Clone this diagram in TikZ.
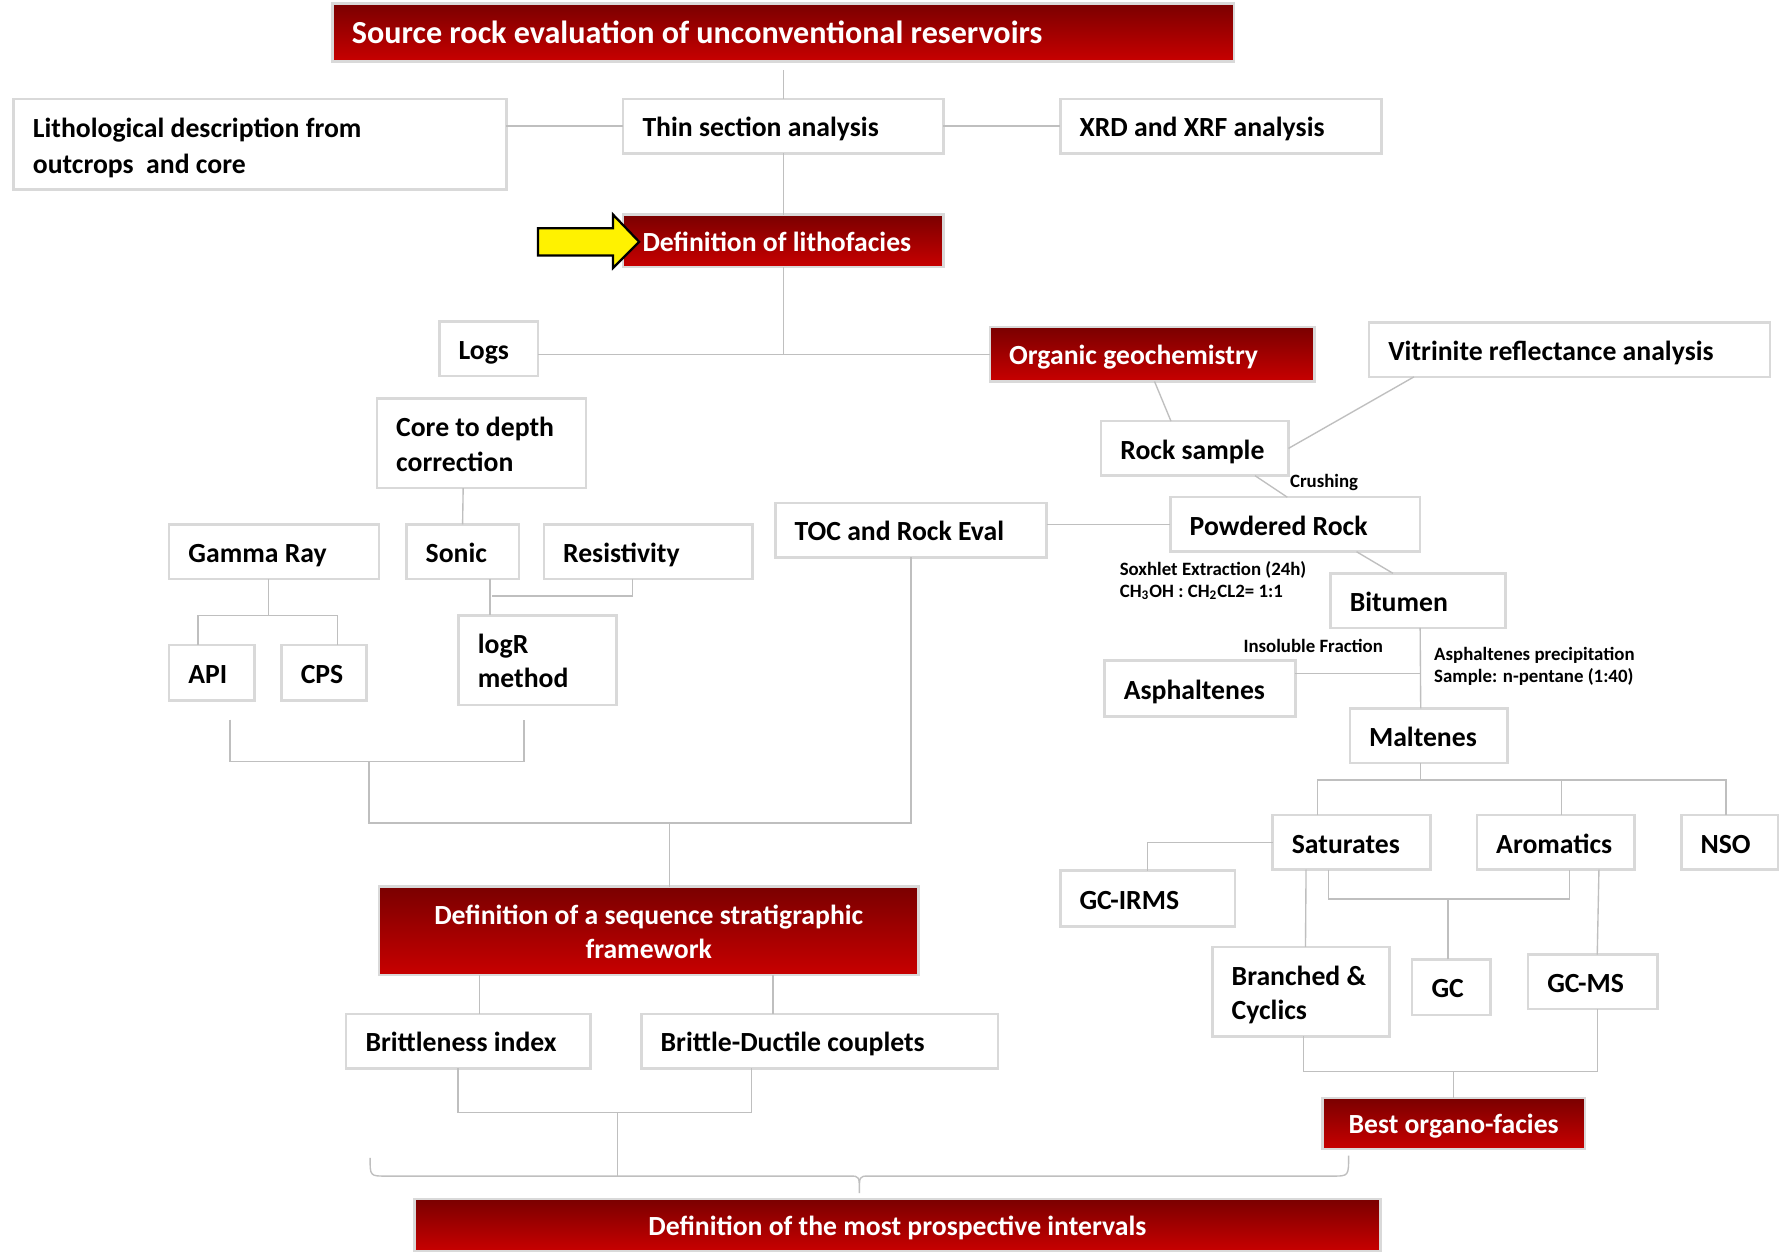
\documentclass[tikz,border=0pt]{standalone}
\usepackage{fontspec}
\setmainfont{Carlito}
\usetikzlibrary{calc}
\definecolor{bord}{HTML}{D9D9D9}
\definecolor{conn}{HTML}{BFBFBF}
\definecolor{rtop}{HTML}{7A0000}
\definecolor{rbot}{HTML}{C80000}
\tikzset{
 base/.style={draw=bord, line width=1.1pt, inner xsep=8.5pt, inner ysep=0pt, outer sep=0pt,
   font=\bfseries\fontsize{12.2}{15}\selectfont},
 wbox/.style={base, fill=white},
 rbox/.style={base, top color=rtop, bottom color=rbot, text=white},
 lnk/.style={draw=conn, line width=0.6pt},
 lbl/.style={font=\bfseries\fontsize{8.3}{9.6}\selectfont, inner sep=0pt, anchor=west, align=left},
}
\newcommand\mkbox[8]{%
  \pgfmathsetmacro\bxw{(#4-#2)*0.5}%
  \pgfmathsetmacro\bxh{(#5-#3)*0.5}%
  \pgfmathsetmacro\bxt{(#4-#2)*0.5-17}%
  \node[#6, minimum width=\bxw pt, minimum height=\bxh pt, anchor=north west] (#1) at (#2,#3)
    {\makebox[\bxt pt][#7]{\raisebox{-1.7pt}[\height][\depth]{\begin{tabular}{@{}#7@{}}#8\end{tabular}}}};}
\begin{document}
\begin{tikzpicture}[x=0.5pt,y=-0.5pt]
\useasboundingbox (0,0) rectangle (1568,1105);
\fill[white] (0,0) rectangle (1568,1105);

\mkbox{title}{293}{3}{1087}{54}{rbox, font=\bfseries\fontsize{14.15}{17}\selectfont}{l}{Source rock evaluation of unconventional reservoirs}
\mkbox{lith}{12}{87}{446}{167}{wbox, font=\bfseries\fontsize{12.2}{16}\selectfont}{l}{Lithological description from\\outcrops\ \ and core}
\mkbox{thin}{549}{87}{831}{135}{wbox}{l}{Thin section analysis}
\mkbox{xrd}{934}{87}{1217}{135}{wbox}{l}{XRD and XRF analysis}
\mkbox{litho}{549}{189}{831}{235}{rbox}{l}{Definition of lithofacies}
\mkbox{logs}{387}{283}{474}{331}{wbox}{l}{Logs}
\mkbox{org}{872}{288}{1158}{336}{rbox}{l}{Organic geochemistry}
\mkbox{vit}{1206}{284}{1559}{332}{wbox}{l}{Vitrinite reflectance analysis}
\mkbox{core}{332}{351}{516}{430}{wbox}{l}{Core to depth\\correction}
\mkbox{rock}{970}{371}{1135}{419}{wbox}{l}{Rock sample}
\mkbox{pow}{1031}{438}{1251}{486}{wbox}{l}{Powdered Rock}
\mkbox{toc}{683}{443}{922}{491}{wbox}{l}{TOC and Rock Eval}
\mkbox{gamma}{149}{462}{334}{510}{wbox}{l}{Gamma Ray}
\mkbox{sonic}{358}{462}{457}{510}{wbox}{l}{Sonic}
\mkbox{res}{479}{462}{663}{510}{wbox}{l}{Resistivity}
\mkbox{bit}{1172}{505}{1326}{553}{wbox}{l}{Bitumen}
\mkbox{api}{149}{568}{224}{617}{wbox}{l}{API}
\mkbox{cps}{248}{568}{323}{617}{wbox}{l}{CPS}
\mkbox{logr}{404}{542}{543}{621}{wbox}{l}{logR\\method}
\mkbox{asph}{973}{582}{1141}{631}{wbox}{l}{Asphaltenes}
\mkbox{malt}{1189}{624}{1328}{672}{wbox}{l}{Maltenes}
\mkbox{sat}{1121}{718}{1260}{766}{wbox}{l}{Saturates}
\mkbox{arom}{1301}{718}{1440}{766}{wbox}{l}{Aromatics}
\mkbox{nso}{1481}{718}{1566}{766}{wbox}{l}{NSO}
\mkbox{irms}{934}{767}{1088}{816}{wbox}{l}{GC-IRMS}
\mkbox{br}{1068}{834}{1224}{913}{wbox}{l}{Branched \&\\Cyclics}
\mkbox{gc}{1244}{845}{1313}{894}{wbox}{l}{GC}
\mkbox{gcms}{1346}{841}{1460}{889}{wbox}{l}{GC-MS}
\mkbox{seq}{334}{781}{809}{859}{rbox}{c}{Definition of a sequence stratigraphic\\framework}
\mkbox{britt}{305}{893}{520}{941}{wbox}{l}{Brittleness index}
\mkbox{bd}{565}{893}{879}{941}{wbox}{l}{Brittle-Ductile couplets}
\mkbox{best}{1165}{967}{1396}{1012}{rbox}{c}{Best organo-facies}
\mkbox{final}{365}{1056}{1216}{1102}{rbox}{c}{Definition of the most prospective intervals}

% yellow arrow
\draw[fill=yellow, line width=1pt, line join=miter] (474,201) -- (540,201) -- (540,189) -- (563,213) -- (540,236) -- (540,225) -- (474,225) -- cycle;

% labels
\node[lbl] (crush) at (1136,425) {Crushing};
\node[lbl] (soxh) at (986,511.5) {Soxhlet Extraction (24h)\\CH\textsubscript{3}OH : CH\textsubscript{2}CL2= 1:1};
\node[lbl] (insol) at (1095,569) {Insoluble Fraction};
\node[lbl] (aprec) at (1263,587) {Asphaltenes precipitation\\Sample: n-pentane (1:40)};

% connectors (top)
\draw[lnk] ([shift={(0,8)}]title.south) -- (thin.north);
\draw[lnk] ([shift={(0,-16)}]lith.east) -- (thin.west);
\draw[lnk] (thin.east) -- (xrd.west);
\draw[lnk] (thin.south) -- (litho.north);
\draw[lnk] (litho.south) -- (litho.south |- org.west);
\draw[lnk] (logs.east |- org.west) -- (org.west);
% right
\draw[lnk] ([shift={(2,0)}]org.south) -- ([shift={(-21,0)}]rock.north);
\draw[lnk] ([shift={(-137,0)}]vit.south) -- (rock.east);
\draw[lnk] ([shift={(53,0)}]rock.south) -- ([shift={(-7,0)}]pow.north);
\draw[lnk] (toc.east |- pow.west) -- (pow.west);
\draw[lnk] ([shift={(54,0)}]pow.south) -- ([shift={(-22,0)}]bit.north);
\draw[lnk] ([shift={(2,0)}]bit.south) -- ([shift={(-7,0)}]malt.north);
\draw[lnk] ([shift={(0,-13)}]asph.east) -- ++(110,0);
\draw[lnk] ([shift={(-7,0)}]malt.south) -- ++(0,15);
\draw[lnk] ([shift={(-30,0)}]sat.north) -- ++(0,-31) -| ([shift={(-3,0)}]nso.north);
\draw[lnk] ([shift={(5,0)}]arom.north) -- ++(0,-31);
\draw[lnk] (sat.west) -| (irms.north);
\draw[lnk] ([shift={(-40,0)}]sat.south) -- ([shift={(4,0)}]br.north);
\draw[lnk] ([shift={(-20,0)}]sat.south) -- ++(0,26) -| ([shift={(12,0)}]arom.south);
\draw[lnk] ([shift={(-3,0)}]gc.north) -- ++(0,-53);
\draw[lnk] ([shift={(38,0)}]arom.south) -- ([shift={(4,0)}]gcms.north);
\draw[lnk] ([shift={(2,0)}]br.south) -- ++(0,31) -| ([shift={(4,0)}]gcms.south);
\draw[lnk] (best.north) -- ++(0,-23);
% left
\draw[lnk] ([shift={(-16,0)}]core.south) -- (sonic.north);
\draw[lnk] ([shift={(24,0)}]sonic.south) -- ([shift={(-42,0)}]logr.north);
\draw[lnk] ([shift={(-14,0)}]res.south) -- ++(0,15) -- ++(-124,0);
\draw[lnk] ([shift={(-5,0)}]gamma.south) -- ++(0,32);
\draw[lnk] ([shift={(-12,0)}]api.north) -- ++(0,-26) -| ([shift={(12,0)}]cps.north);
\draw[lnk] ([shift={(16,17)}]api.south) -- ++(0,37) -| ([shift={(-12,13)}]logr.south);
\coordinate (j1) at (325,671);
\draw[lnk] (j1) -- ++(0,54) -| (toc.south);
\draw[lnk] ([shift={(18,0)}]seq.north) -- ++(0,-56);
\draw[lnk] ([shift={(10,0)}]britt.north) -- ++(0,-34);
\draw[lnk] ([shift={(-41,0)}]bd.north) -- ++(0,-34);
\draw[lnk] ([shift={(-9,0)}]britt.south) -- ++(0,39) -| ([shift={(-60,0)}]bd.south);
\coordinate (j2) at (544,980);
\draw[lnk] (j2) -- ++(0,56);
% brace
\coordinate (bl) at (326,1020);
\coordinate (bt) at (757,1051);
\coordinate (bre) at (1188,1018);
\draw[lnk] (bl) .. controls (326,1036) .. (340,1036) -- (749,1036) .. controls (757,1036) .. (bt)
  .. controls (757,1036) .. (765,1036) -- (1174,1036) .. controls (1188,1036) .. (bre);
\end{tikzpicture}
\end{document}
